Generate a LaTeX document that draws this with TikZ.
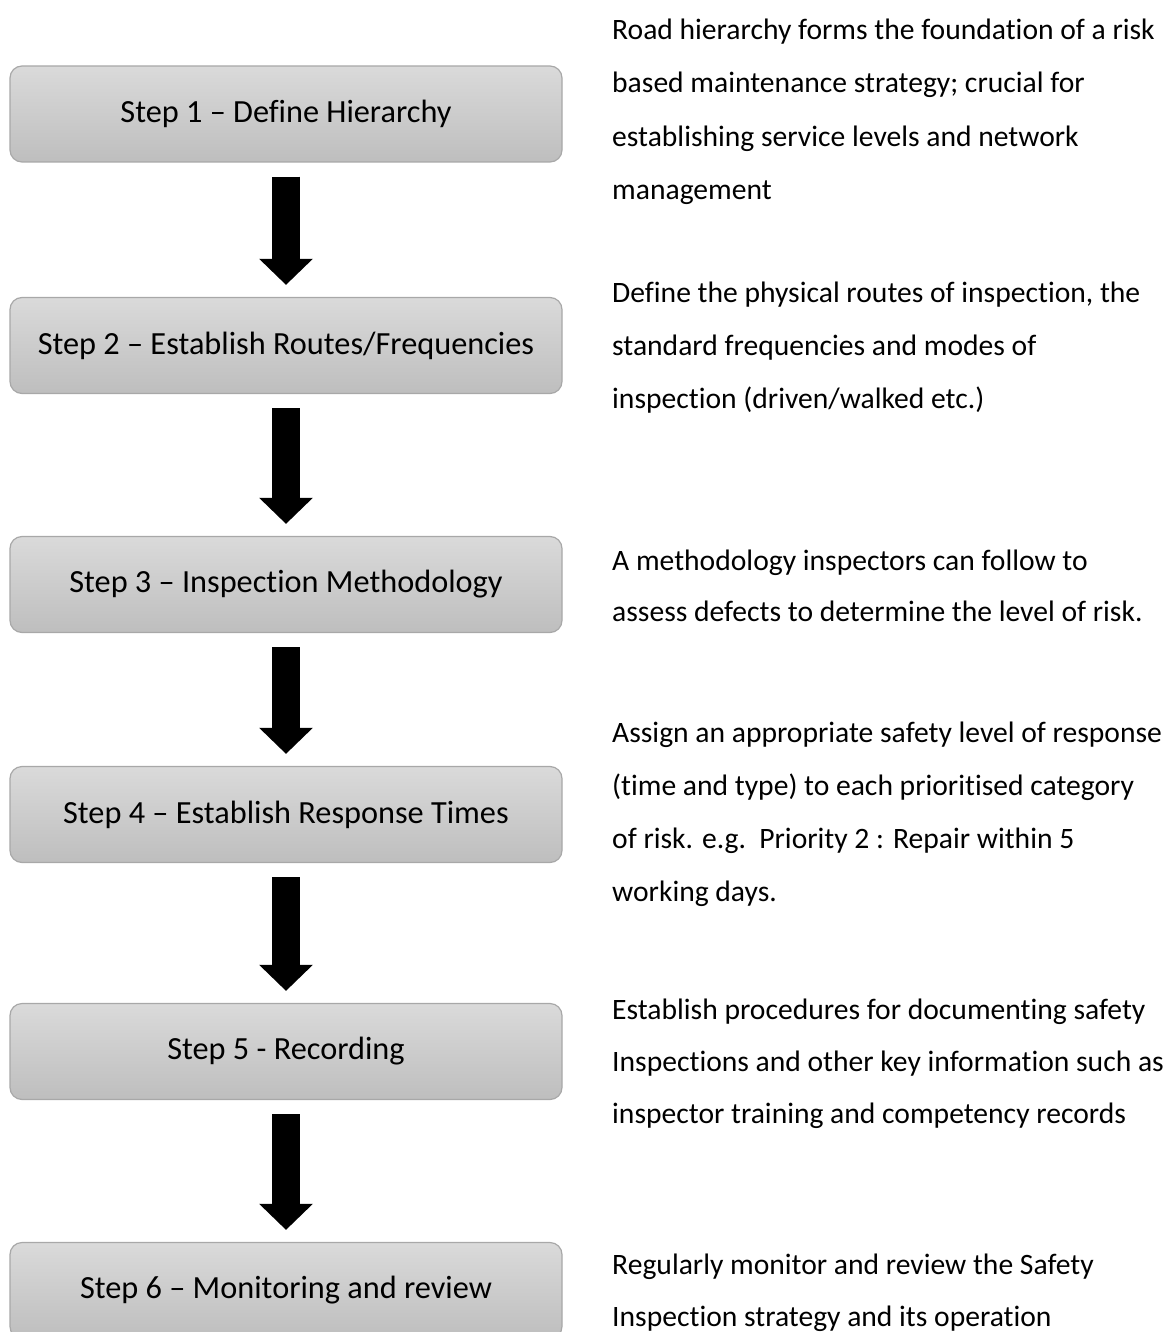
\documentclass[tikz,border=0pt]{standalone}
\usepackage{fontspec}
\setmainfont{Carlito}[Ligatures=CommonOff]
\usetikzlibrary{arrows.meta}
\definecolor{boxtop}{RGB}{218,218,218}
\definecolor{boxbot}{RGB}{190,190,190}
\definecolor{boxline}{RGB}{168,168,168}
\begin{document}
\begin{tikzpicture}[x=1pt,y=-1pt,
  stepbox/.style={rectangle, rounded corners=12pt, draw=boxline, line width=1.2pt,
    top color=boxtop, bottom color=boxbot, minimum width=552pt, minimum height=96pt,
    inner sep=0pt, font=\fontsize{32.3}{38}\selectfont},
  desc/.style={anchor=base west, inner sep=0pt, font=\fontsize{29.6}{36}\selectfont},
  fatarrow/.style={line width=28pt, -{Triangle[width=52pt,length=26pt]},
    shorten <=14pt, shorten >=12pt}]
\useasboundingbox (0,0) rectangle (1168,1332);

\node[stepbox] (s1) at (286,114)    {Step 1 – Define Hierarchy};
\node[stepbox] (s2) at (286,345.5)  {Step 2 – Establish Routes/Frequencies};
\node[stepbox] (s3) at (286,584.5)  {Step 3 – Inspection Methodology};
\node[stepbox] (s4) at (286,814.5)  {Step 4 – Establish Response Times};
\node[stepbox] (s5) at (286,1051.5) {Step 5 - Recording};
\node[stepbox] (s6) at (286,1290.5) {Step 6 – Monitoring and review};

\draw[fatarrow] (s1) -- (s2);
\draw[fatarrow] (s2) -- (s3);
\draw[fatarrow] (s3) -- (s4);
\draw[fatarrow] (s4) -- (s5);
\draw[fatarrow] (s5) -- (s6);

\node[desc] (d1a) at (612,40)  {Road hierarchy forms the foundation of a risk};
\node[desc] (d1b) at (612,93)  {based maintenance strategy; crucial for};
\node[desc] (d1c) at (612,147) {establishing service levels and network};
\node[desc] (d1d) at (612,200) {management};

\node[desc] (d2a) at (612,302) {Define the physical routes of inspection, the};
\node[desc] (d2b) at (612,355) {standard frequencies and modes of};
\node[desc] (d2c) at (612,408) {inspection (driven/walked etc.)};

\node[desc] (d3a) at (612,570) {A methodology inspectors can follow to};
\node[desc] (d3b) at (612,621) {assess defects to determine the level of risk.};

\node[desc] (d4a) at (612,742) {Assign an appropriate safety level of response};
\node[desc] (d4b) at (612,795) {(time and type) to each prioritised category};
\node[desc] (d4c) at (612,848) {of risk. e.g.\ \ Priority 2 : Repair within 5};
\node[desc] (d4d) at (612,901) {working days.};

\node[desc] (d5a) at (612,1019) {Establish procedures for documenting safety};
\node[desc] (d5b) at (612,1071) {Inspections and other key information such as};
\node[desc] (d5c) at (612,1123) {inspector training and competency records};

\node[desc] (d6a) at (612,1274) {Regularly monitor and review the Safety};
\node[desc] (d6b) at (612,1326) {Inspection strategy and its operation};
\end{tikzpicture}
\end{document}
